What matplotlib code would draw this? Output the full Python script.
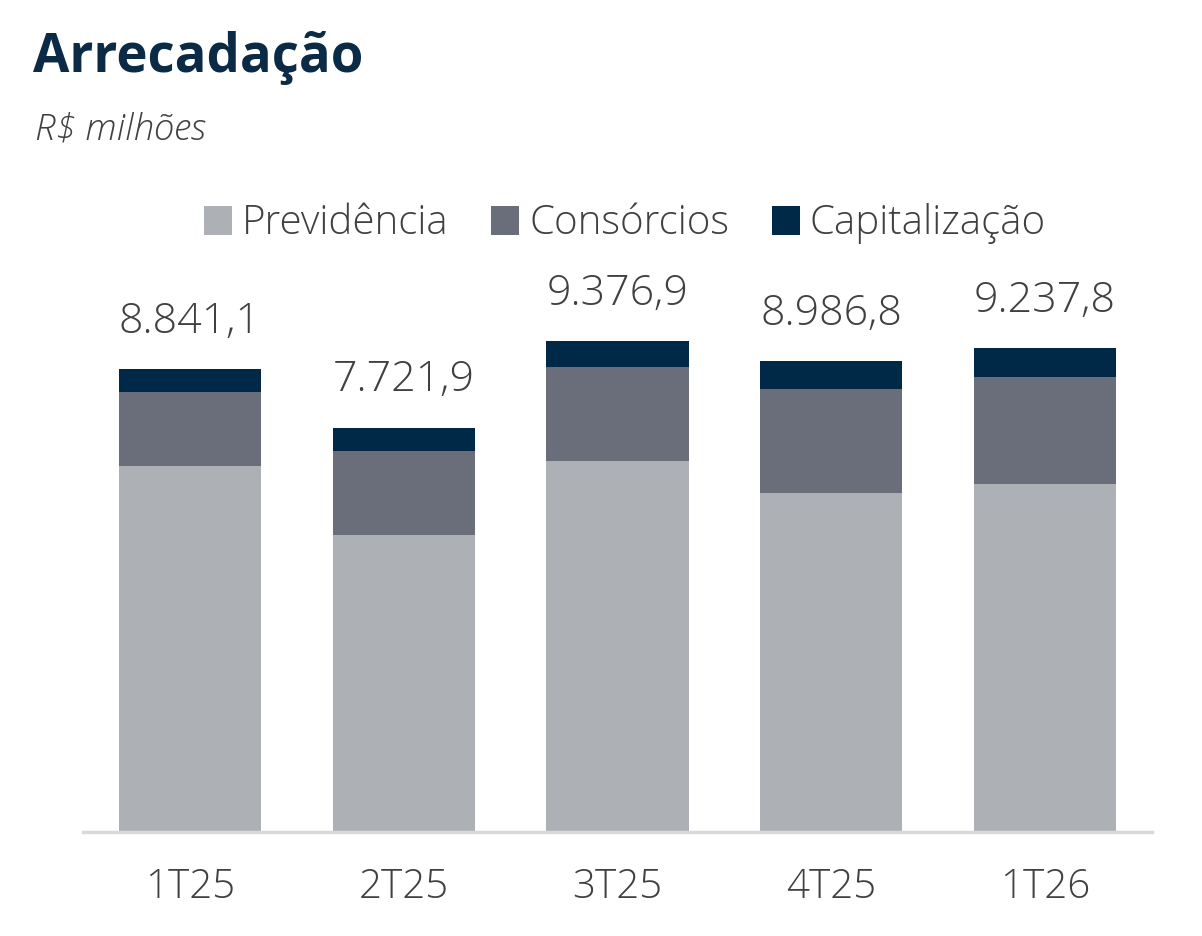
import numpy as np
import matplotlib
matplotlib.use('Agg')
import matplotlib.pyplot as plt
from matplotlib.patches import Patch

# data (R$ milhoes)
quarters = ['1T25', '2T25', '3T25', '4T25', '1T26']
previdencia = [6989.0, 5671.0, 7084.0, 6473.0, 6645.0]
consorcios = [1413.0, 1604.0, 1795.0, 1986.0, 2043.0]
capitalizacao = [439.1, 446.9, 497.9, 527.8, 549.8]
totals = ['8.841,1', '7.721,9', '9.376,9', '8.986,8', '9.237,8']
series_names = ['Previdência', 'Consórcios', 'Capitalização']

colors = ['#adb0b5', '#696e7a', '#002847']
text_color = '#404040'
title_color = '#0b2a45'

plt.rcParams['font.family'] = ['Open Sans', 'DejaVu Sans']

fig = plt.figure(figsize=(12.02, 9.36), dpi=100)
ax = fig.add_axes([83 / 1202, 104 / 936, 1069 / 1202, 550 / 936])

x = np.arange(len(quarters))
width = 0.665
prev = np.array(previdencia)
cons = np.array(consorcios)
cap = np.array(capitalizacao)

ax.bar(x, prev, width, color=colors[0], label=series_names[0])
ax.bar(x, cons, width, bottom=prev, color=colors[1], label=series_names[1])
ax.bar(x, cap, width, bottom=prev + cons, color=colors[2], label=series_names[2])

# total labels above each stack
tops = prev + cons + cap
for xi, top, lbl in zip(x, tops, totals):
    ax.annotate(lbl, (xi, top), xytext=(0, 26), textcoords='offset points',
                ha='center', va='baseline', fontsize=31, color=text_color,
                fontweight='light')

ax.set_xlim(-0.5, 4.5)
ax.set_ylim(0, 10500)
ax.set_xticks(x)
ax.set_xticklabels(quarters, fontsize=29, color=text_color, fontweight='light')
ax.tick_params(axis='x', length=0, pad=25)
ax.set_yticks([])
for side in ['top', 'right', 'left']:
    ax.spines[side].set_visible(False)
ax.spines['bottom'].set_color('#d9d9d9')
ax.spines['bottom'].set_linewidth(2.5)

# titles
fig.text(33 / 1202, 1 - 72 / 936, 'Arrecadação', fontsize=38, fontweight='bold',
         color=title_color, ha='left', va='baseline')
fig.text(35 / 1202, 1 - 139 / 936, 'R$ milhões', fontsize=26.5, style='italic',
         fontweight='light', color=text_color, ha='left', va='baseline')

# legend
handles = [Patch(facecolor=c, edgecolor='none') for c in colors]
leg = fig.legend(handles, series_names, loc='center', bbox_to_anchor=(625 / 1202, 1 - 224 / 936),
                 ncol=3, frameon=False, fontsize=29, handlelength=0.7, handleheight=0.7,
                 handletextpad=0.25, columnspacing=1.05)
for t in leg.get_texts():
    t.set_color(text_color)
    t.set_fontweight('light')

plt.savefig('out.png', dpi=100)
